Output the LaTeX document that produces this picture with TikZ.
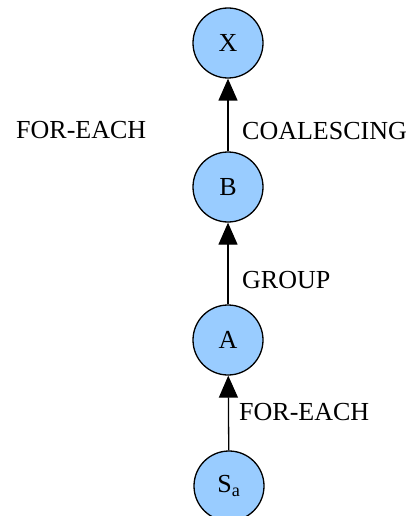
\documentclass[tikz,border=0pt]{standalone}
\usepackage{fontspec}
\setmainfont{Liberation Serif}
\usetikzlibrary{arrows.meta}

\definecolor{nodeblue}{RGB}{153,204,255}

\begin{document}
\begin{tikzpicture}[x=1pt,y=-1pt]
  \tikzset{
    every node/.style={font=\fontsize{26}{30}\selectfont},
    vertex/.style={circle,draw,line width=1.3pt,fill=nodeblue,minimum size=70pt,inner sep=0pt},
    lbl/.style={anchor=west,inner sep=0pt},
    arr/.style={line width=1.3pt,-{Triangle[length=22pt,width=19pt]}}
  }
  \useasboundingbox (0,0) rectangle (412,516);

  \node[vertex] (x)  at (228,43)  {X};
  \node[vertex] (b)  at (228,187) {B};
  \node[vertex] (a)  at (228,340) {A};
  \node[vertex] (sa) at (229,486) {S\textsubscript{a}};

  \node[lbl] (fe1)  at (16,130)  {FOR-EACH};
  \node[lbl] (coal) at (242,131) {COALESCING};
  \node[lbl] (grp)  at (242,280) {GROUP};
  \node[lbl] (fe2)  at (239,412) {FOR-EACH};

  \draw[arr] (b) -- (x);
  \draw[arr] (a) -- (b);
  \draw[arr] (sa) -- (a);

\end{tikzpicture}
\end{document}
